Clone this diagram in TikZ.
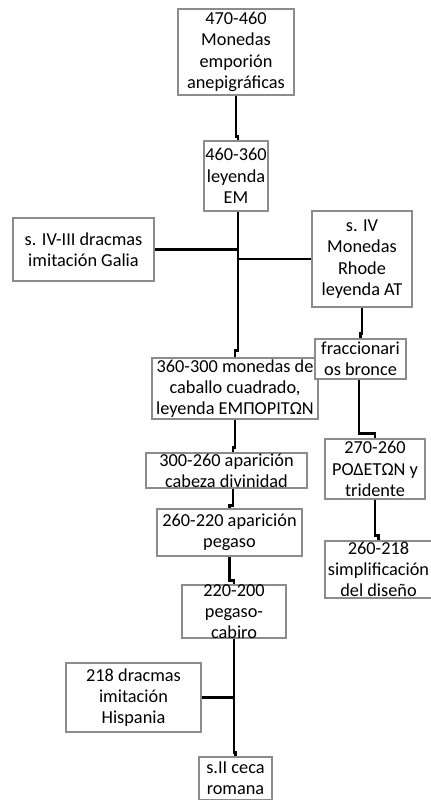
\documentclass[tikz,border=0pt]{standalone}
\usepackage{fontspec}
\setmainfont{Carlito}
\usetikzlibrary{calc}
\definecolor{boxgray}{HTML}{8C8C8C}
\tikzset{
  box/.style={draw=boxgray, line width=1.1bp, inner sep=0pt, fill=white},
  txt/.style={inner sep=0pt, align=center, text=black,
    font=\fontsize{18.3bp}{21.3bp}\selectfont},
  conn/.style={line width=2.6bp, black, line join=miter}
}
\begin{document}
\begin{tikzpicture}[x=1bp,y=-1bp]
\useasboundingbox (0,0) rectangle (430,800);
% boxes
\node[box, minimum width=116bp, minimum height=86bp] (b1) at (236,52) {};
\node[box, minimum width=64bp, minimum height=70bp] (b2) at (236,176) {};
\node[box, minimum width=141bp, minimum height=63bp] (galia) at (83.5,249.5) {};
\node[box, minimum width=100bp, minimum height=96bp] (rhode) at (362,259) {};
\node[box, minimum width=166bp, minimum height=61bp] (b3) at (235,388.5) {};
\node[box, minimum width=91bp, minimum height=40bp] (fracc) at (360.5,359) {};
\node[box, minimum width=161bp, minimum height=35bp] (b4) at (226.5,470.5) {};
\node[box, minimum width=100bp, minimum height=60bp] (b270) at (375,469) {};
\node[box, minimum width=145bp, minimum height=47bp] (b5) at (229.5,532.5) {};
\node[box, minimum width=107bp, minimum height=57bp] (b218s) at (378.5,569.5) {};
\node[box, minimum width=104bp, minimum height=53bp] (b6) at (234,611.5) {};
\node[box, minimum width=135bp, minimum height=69bp] (b218h) at (133.5,697.5) {};
\node[box, minimum width=73bp, minimum height=43bp] (b7) at (235.5,778.5) {};
% texts
\node[txt] (t1) at (b1.center) {470-460\\Monedas\\emporión\\anepigráficas};
\node[txt] (t2) at (b2.center) {460-360\\leyenda\\EM};
\node[txt] (tg) at (galia.center) {s. IV-III dracmas\\imitación Galia};
\node[txt] (tr) at (rhode.center) {s. IV\\Monedas\\Rhode\\leyenda AT};
\node[txt] (t3) at (b3.center) {360-300 monedas de\\caballo cuadrado,\\leyenda ΕΜΠΟΡΙΤΩΝ};
\node[txt] (tf) at (fracc.center) {fraccionari\\os bronce};
\node[txt] (t4) at (b4.center) {300-260 aparición\\cabeza divinidad};
\node[txt] (t270) at (b270.center) {270-260\\ΡΟΔΕΤΩΝ y\\tridente};
\node[txt] (t5) at (b5.center) {260-220 aparición\\pegaso};
\node[txt] (t218s) at (b218s.center) {260-218\\simplificación\\del diseño};
\node[txt] (t6) at (b6.center) {220-200\\pegaso-\\cabiro};
\node[txt] (t218h) at (b218h.center) {218 dracmas\\imitación\\Hispania};
\node[txt] (t7) at (b7.center) {s.II ceca\\romana};
% connectors
\coordinate (tk) at ($(b2.south)+(2,0)$);
\draw[conn] (b1.south) -- ++(0,41) -- ++(2,0) -- ($(b2.north)+(2,0)$);
\draw[conn] (tk) -- ++(0,139) -| (b3.north);
\draw[conn] (galia.east) -- (galia.east -| tk);
\draw[conn] (rhode.west) -- (rhode.west -| tk);
\draw[conn] (rhode.south) -- ++(0,26) -| (fracc.north);
\draw[conn] ($(fracc.south)+(-1.5,0)$) -- ++(0,54) -| (b270.north);
\draw[conn] (b270.south) -- ++(0,36) -| (b218s.north);
\draw[conn] (b3.south) -- ++(0,28) -- ++(-2,0) coordinate (j) -- (j |- b4.north);
\draw[conn] (b4.south -| j) -- ++(0,17) -| (b5.north);
\draw[conn] (b5.south) -- ++(0,24) -| (b6.north);
\draw[conn] (b6.south) -- ++(0,114) -| (b7.north);
\draw[conn] (b218h.east) -- (b218h.east -| b6.south);
\end{tikzpicture}
\end{document}
